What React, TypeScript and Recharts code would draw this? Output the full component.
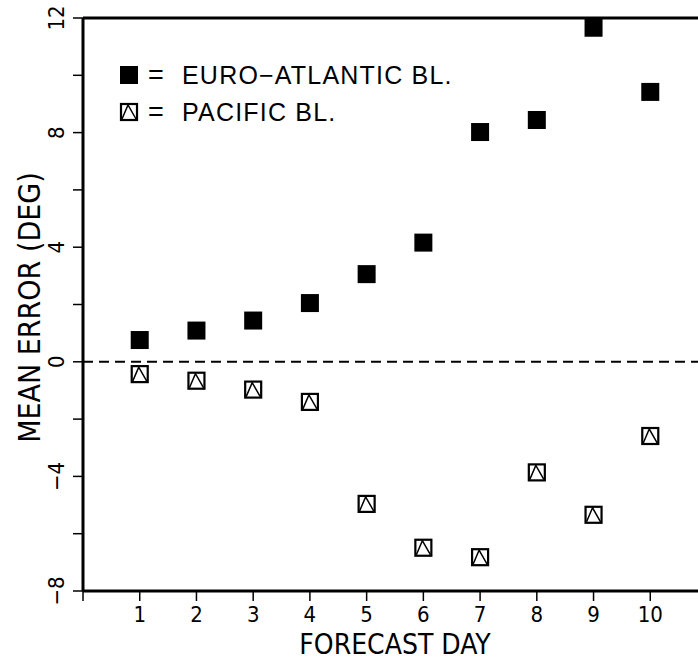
import { ReferenceLine, Scatter, ScatterChart, XAxis, YAxis } from "recharts";

/* forecast day and mean error (deg) per blocking region */
const days = [1, 2, 3, 4, 5, 6, 7, 8, 9, 10];
const euroAtlantic = [0.76, 1.09, 1.44, 2.05, 3.06, 4.16, 8.02, 8.44, 11.66, 9.42];
const pacific = [-0.43, -0.66, -0.97, -1.4, -4.96, -6.49, -6.82, -3.86, -5.34, -2.59];
const xTicks = [0, 1, 2, 3, 4, 5, 6, 7, 8, 9, 10];
const yTicks = [-8, -6, -4, -2, 0, 2, 4, 6, 8, 10, 12];
const legendLabels = ["EURO\u2212ATLANTIC BL.", "PACIFIC BL."];

const euroData = days.map((day, i) => ({ day, value: euroAtlantic[i] }));
const pacificData = days.map((day, i) => ({ day, value: pacific[i] }));

const NARROW = '"Liberation Sans Narrow", "DejaVu Sans Condensed", "Liberation Sans", sans-serif';
const PLAIN = '"Liberation Sans", Arial, sans-serif';

function FilledSquare({ cx, cy }: any) {
  return <rect x={cx - 9} y={cy - 9} width={18} height={18} fill="#000" />;
}

function TriangleSquare({ cx, cy }: any) {
  return (
    <g fill="none" stroke="#000">
      <rect x={cx - 8} y={cy - 8} width={16} height={16} fill="#fff" strokeWidth={2.2} />
      <polyline points={`${cx - 7},${cy + 7} ${cx - 1},${cy - 7} ${cx + 7},${cy + 7}`} strokeWidth={1.5} />
    </g>
  );
}

function YTick({ x, y, payload }: any) {
  const v = payload.value;
  return (
    <g>
      <line x1={x - 10} y1={y} x2={x} y2={y} stroke="#000" strokeWidth={1.5} />
      {v % 4 === 0 && (
        <text
          x={x - 19}
          y={y}
          transform={`rotate(-90, ${x - 19}, ${y})`}
          textAnchor="middle"
          fontFamily={NARROW}
          fontSize={22}
          fill="#000"
        >
          {v < 0 ? `\u2212${Math.abs(v)}` : v}
        </text>
      )}
    </g>
  );
}

function XTick({ x, y, payload }: any) {
  const v = payload.value;
  return (
    <g>
      <line x1={x} y1={y} x2={x} y2={y + 10} stroke="#000" strokeWidth={1.5} />
      {v > 0 && (
        <text x={x} y={y + 31} textAnchor="middle" fontFamily={NARROW} fontSize={22} fill="#000">
          {v}
        </text>
      )}
    </g>
  );
}

function YTitle({ viewBox }: any) {
  const cx = 40;
  const cy = viewBox.y + viewBox.height / 2 + 3;
  return (
    <text
      x={cx}
      y={cy}
      transform={`rotate(-90, ${cx}, ${cy})`}
      textAnchor="middle"
      fontFamily={NARROW}
      fontSize={30}
      fill="#000"
    >
      MEAN ERROR (DEG)
    </text>
  );
}

export default function App() {
  return (
    <div
      style={{
        position: "absolute",
        left: 0,
        top: 0,
        width: 698,
        height: 661,
        overflow: "hidden",
        background: "#fff",
      }}
    >
      <ScatterChart width={711} height={661} margin={{ top: 18, right: 4, bottom: 0, left: 0 }}>
        <XAxis
          type="number"
          dataKey="day"
          domain={[0, 11]}
          ticks={xTicks}
          interval={0}
          height={70}
          tickSize={0}
          tickMargin={0}
          tickLine={false}
          tick={<XTick />}
          axisLine={{ stroke: "#000", strokeWidth: 3 }}
          label={{
            value: "FORECAST DAY",
            position: "insideBottom",
            offset: 7,
            style: { fontFamily: NARROW, fontSize: 28, fill: "#000" },
          }}
        />
        <YAxis
          type="number"
          dataKey="value"
          domain={[-8, 12]}
          ticks={yTicks}
          interval={0}
          width={83}
          tickSize={0}
          tickMargin={0}
          tickLine={false}
          tick={<YTick />}
          axisLine={{ stroke: "#000", strokeWidth: 3 }}
          label={<YTitle />}
        />
        <ReferenceLine y={12} stroke="#000" strokeWidth={3} />
        <ReferenceLine y={0} stroke="#000" strokeWidth={2} strokeDasharray="10 6" />
        <Scatter data={euroData} shape={<FilledSquare />} isAnimationActive={false} />
        <Scatter data={pacificData} shape={<TriangleSquare />} isAnimationActive={false} />
      </ScatterChart>

      <svg style={{ position: "absolute", left: 0, top: 0 }} width={698} height={661} pointerEvents="none">
        <FilledSquare cx={129} cy={75} />
        <TriangleSquare cx={129} cy={112} />
        {legendLabels.map((label, i) => (
          <g key={label} fontFamily={PLAIN} fontSize={25} fill="#000">
            <text x={148} y={84 + i * 37} fontSize={27}>=</text>
            <text x={182} y={84 + i * 37} letterSpacing={1.2}>{label}</text>
          </g>
        ))}
      </svg>
    </div>
  );
}
